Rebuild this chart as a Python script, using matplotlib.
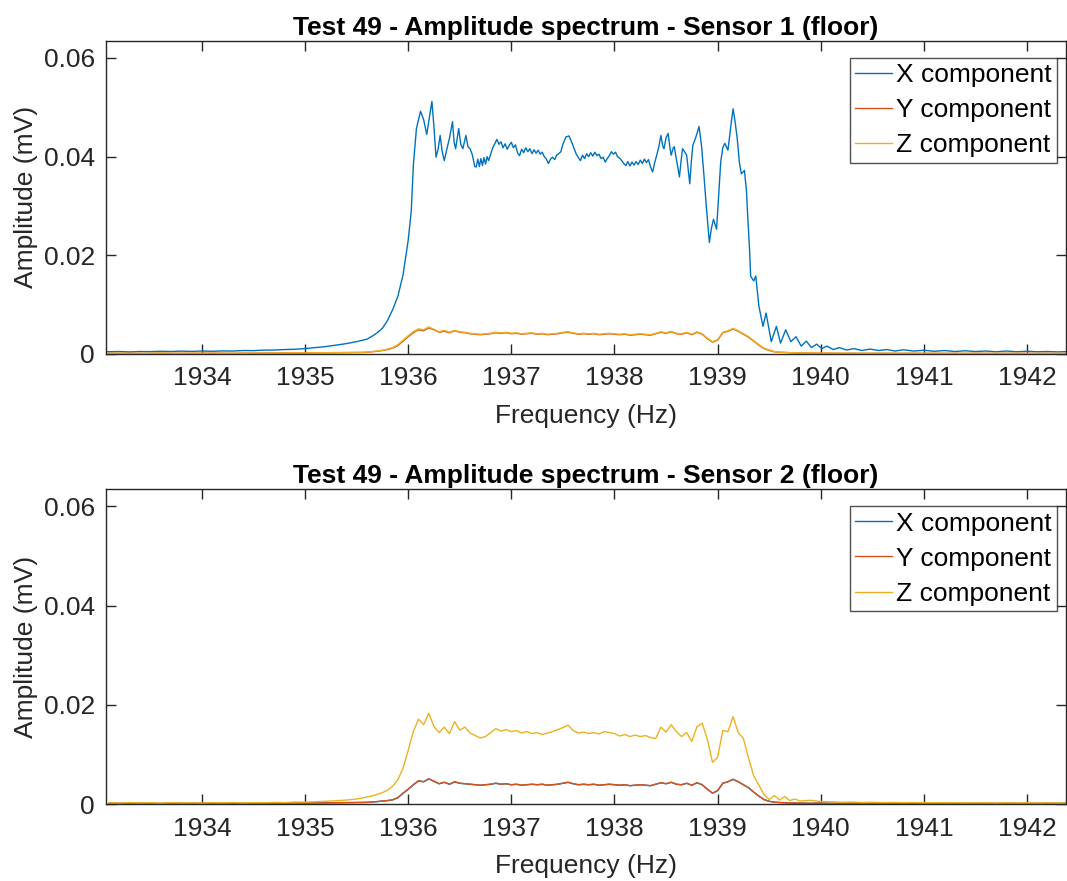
import matplotlib
matplotlib.use("Agg")
import matplotlib.pyplot as plt
import numpy as np

plt.rcParams['font.family'] = ['Liberation Sans', 'DejaVu Sans']

# ---------------- data (amplitudes in 1e-3 mV) ----------------
# X component, sensor 1
freq_x1 = [1933.08, 1933.2, 1933.3, 1933.4, 1933.5, 1933.6, 1933.7, 1933.8, 1933.9, 1934.0,
           1934.1, 1934.2, 1934.3, 1934.4, 1934.5, 1934.6, 1934.7, 1934.8, 1934.9, 1935.0,
           1935.1, 1935.2, 1935.3, 1935.4, 1935.5, 1935.6, 1935.65, 1935.7, 1935.75, 1935.8,
           1935.85, 1935.9, 1935.95, 1936.0, 1936.03, 1936.05, 1936.08, 1936.12, 1936.15, 1936.18,
           1936.21, 1936.23, 1936.25, 1936.27, 1936.29, 1936.31, 1936.33, 1936.35, 1936.38, 1936.40,
           1936.43, 1936.445, 1936.46, 1936.49, 1936.51, 1936.53, 1936.56, 1936.58, 1936.60, 1936.62,
           1936.63, 1936.645, 1936.66, 1936.675, 1936.69, 1936.705, 1936.72, 1936.735, 1936.75, 1936.765,
           1936.78, 1936.80, 1936.82, 1936.84, 1936.86, 1936.88, 1936.90, 1936.92, 1936.94, 1936.96,
           1936.98, 1937.00, 1937.02, 1937.04, 1937.06, 1937.08, 1937.10, 1937.12, 1937.14, 1937.16,
           1937.18, 1937.20, 1937.22, 1937.24, 1937.26, 1937.28, 1937.30, 1937.32, 1937.34, 1937.36,
           1937.38, 1937.40, 1937.42, 1937.44, 1937.46, 1937.48, 1937.50, 1937.53, 1937.56, 1937.58,
           1937.61, 1937.63, 1937.65, 1937.67, 1937.69, 1937.71, 1937.73, 1937.75, 1937.77, 1937.79,
           1937.81, 1937.83, 1937.85, 1937.87, 1937.89, 1937.91, 1937.93, 1937.95, 1937.97, 1937.99,
           1938.01, 1938.03, 1938.05, 1938.07, 1938.09, 1938.11, 1938.13, 1938.15, 1938.17, 1938.19,
           1938.21, 1938.23, 1938.25, 1938.27, 1938.29, 1938.31, 1938.33, 1938.35, 1938.37, 1938.39,
           1938.41, 1938.43, 1938.45, 1938.47, 1938.48, 1938.50, 1938.52, 1938.54, 1938.55, 1938.57,
           1938.58, 1938.60, 1938.63, 1938.645, 1938.66, 1938.68, 1938.70, 1938.73, 1938.745, 1938.76,
           1938.79, 1938.82, 1938.845, 1938.87, 1938.89, 1938.92, 1938.94, 1938.96, 1938.99, 1939.01,
           1939.03, 1939.05, 1939.07, 1939.10, 1939.13, 1939.15, 1939.17, 1939.19, 1939.21, 1939.23,
           1939.26, 1939.28, 1939.29, 1939.31, 1939.32, 1939.35, 1939.37, 1939.40, 1939.44, 1939.47,
           1939.52, 1939.57, 1939.61, 1939.66, 1939.71, 1939.76, 1939.81, 1939.86, 1939.91, 1939.96,
           1940.01, 1940.06, 1940.12, 1940.18, 1940.25, 1940.32, 1940.40, 1940.48, 1940.56, 1940.64,
           1940.72, 1940.8, 1940.9, 1941.0, 1941.1, 1941.2, 1941.3, 1941.4, 1941.5, 1941.6,
           1941.7, 1941.8, 1941.9, 1942.0, 1942.1, 1942.2, 1942.3, 1942.4]
amp_x1 = [0.45, 0.5, 0.42, 0.5, 0.48, 0.55, 0.5, 0.58, 0.52, 0.6,
          0.55, 0.62, 0.6, 0.7, 0.68, 0.78, 0.8, 0.9, 0.95, 1.1,
          1.3, 1.5, 1.8, 2.1, 2.5, 3.0, 3.6, 4.3, 5.2, 6.8,
          9.0, 11.7, 16.0, 23.0, 29.0, 38.2, 45.7, 49.2, 47.5, 44.5,
          48.5, 51.2, 46.0, 39.9, 41.5, 44.3, 41.0, 39.2, 42.0, 43.7,
          47.1, 43.0, 41.6, 45.7, 42.5, 41.6, 44.3, 42.0, 41.6, 40.5,
          39.6, 38.0, 37.9, 39.5, 38.0, 39.6, 38.2, 39.8, 38.5, 40.0,
          39.2, 40.5, 41.8, 42.6, 43.5, 42.5, 43.0, 41.8, 42.6, 41.5,
          42.3, 42.9, 41.8, 42.4, 40.8, 40.2, 41.5, 40.8, 41.8, 41.0,
          41.6, 40.6, 41.4, 40.7, 41.3, 40.5, 40.9, 40.0, 39.5, 38.6,
          39.5, 39.9, 39.4, 40.3, 40.6, 41.0, 42.5, 44.0, 44.2, 43.2,
          41.6, 40.5, 39.8, 39.2, 40.3, 39.6, 40.6, 40.0, 40.8, 40.1,
          40.9, 40.2, 40.5, 39.6, 39.9, 38.9, 39.6, 40.2, 41.0, 40.5,
          40.9, 40.0, 39.7, 39.2, 38.6, 38.2, 39.0, 38.1, 38.9, 38.3,
          39.0, 38.4, 39.3, 38.6, 39.5, 38.8, 39.4, 37.9, 36.9, 38.8,
          40.3, 42.0, 44.3, 42.0, 41.6, 43.8, 44.7, 41.5, 40.3, 41.8,
          42.0, 39.5, 35.9, 39.0, 41.6, 41.0, 40.3, 34.5, 39.0, 42.3,
          44.0, 46.1, 42.0, 35.5, 30.0, 22.6, 25.5, 27.3, 25.3, 32.0,
          38.9, 41.8, 42.7, 41.3, 46.5, 49.7, 47.0, 43.7, 39.0, 36.5,
          37.2, 33.0, 28.7, 21.0, 15.8, 14.8, 15.8, 9.7, 5.6, 8.3,
          2.5, 5.6, 2.2, 4.9, 2.5, 3.5, 1.6, 2.6, 1.3, 2.0,
          1.1, 1.6, 0.9, 1.3, 0.8, 1.1, 0.7, 1.0, 0.7, 0.9,
          0.6, 0.85, 0.6, 0.75, 0.55, 0.7, 0.5, 0.65, 0.5, 0.6,
          0.45, 0.6, 0.45, 0.55, 0.45, 0.5, 0.42, 0.5]

# Common frequency grid for the small components
freq_grid = [1933.1, 1933.2, 1933.3, 1933.4, 1933.5, 1933.6, 1933.7, 1933.8, 1933.9, 1934.0,
             1934.1, 1934.2, 1934.3, 1934.4, 1934.5, 1934.6, 1934.7, 1934.8, 1934.9, 1935.0,
             1935.1, 1935.2, 1935.3, 1935.4, 1935.5,
             1935.55, 1935.60, 1935.65, 1935.70, 1935.75, 1935.80, 1935.85, 1935.90, 1935.95, 1936.00,
             1936.05, 1936.10, 1936.15, 1936.20, 1936.25, 1936.30, 1936.35, 1936.40, 1936.45, 1936.50,
             1936.55, 1936.60, 1936.65, 1936.70, 1936.75, 1936.80, 1936.85, 1936.90, 1936.95, 1937.00,
             1937.05, 1937.10, 1937.15, 1937.20, 1937.25, 1937.30, 1937.35, 1937.40, 1937.45, 1937.50,
             1937.55, 1937.60, 1937.65, 1937.70, 1937.75, 1937.80, 1937.85, 1937.90, 1937.95, 1938.00,
             1938.05, 1938.10, 1938.15, 1938.20, 1938.25, 1938.30, 1938.35, 1938.40, 1938.45, 1938.50,
             1938.55, 1938.60, 1938.65, 1938.70, 1938.75, 1938.80, 1938.85, 1938.90, 1938.95, 1939.00,
             1939.05, 1939.10, 1939.15, 1939.20, 1939.25, 1939.30, 1939.35, 1939.40, 1939.45, 1939.50,
             1939.55, 1939.60, 1939.65, 1939.70, 1939.75,
             1939.8, 1939.9, 1940.0, 1940.1, 1940.2, 1940.3, 1940.4, 1940.5, 1940.6, 1940.7,
             1940.8, 1940.9, 1941.0, 1941.1, 1941.2, 1941.3, 1941.4, 1941.5, 1941.6, 1941.7,
             1941.8, 1941.9, 1942.0, 1942.1, 1942.2, 1942.3, 1942.4]

amp_y1 = [0.15, 0.12, 0.18, 0.10, 0.14, 0.16, 0.12, 0.15, 0.13, 0.17,
          0.14, 0.16, 0.12, 0.18, 0.15, 0.20, 0.17, 0.22, 0.19, 0.20,
          0.22, 0.24, 0.26, 0.28, 0.30,
          0.30, 0.35, 0.45, 0.55, 0.70, 0.90, 1.2, 1.7, 2.6, 3.5,
          4.3, 4.9, 4.7, 5.3, 4.9, 4.4, 4.6, 4.3, 4.7, 4.4,
          4.3, 4.1, 4.0, 3.9, 4.0, 4.1, 4.3, 4.2, 4.3, 4.1,
          4.2, 4.0, 4.1, 4.2, 4.0, 4.1, 3.9, 4.0, 4.1, 4.3,
          4.4, 4.2, 4.0, 4.1, 4.0, 4.1, 3.9, 4.0, 4.1, 4.0,
          3.9, 4.0, 3.8, 3.9, 4.0, 3.9, 3.8, 4.1, 4.4, 4.2,
          4.5, 4.1, 4.0, 4.3, 3.9, 4.4, 4.0, 3.1, 2.4, 2.8,
          4.3, 4.6, 5.1, 4.6, 4.0, 3.4, 2.6, 1.8, 1.1, 0.7,
          0.45, 0.35, 0.3, 0.25, 0.22,
          0.2, 0.18, 0.15, 0.17, 0.13, 0.16, 0.12, 0.15, 0.13, 0.14,
          0.12, 0.15, 0.11, 0.14, 0.12, 0.13, 0.11, 0.14, 0.12, 0.10,
          0.13, 0.11, 0.12, 0.10, 0.13, 0.11, 0.12]

amp_z1 = [0.12, 0.16, 0.10, 0.15, 0.12, 0.18, 0.14, 0.11, 0.16, 0.13,
          0.18, 0.12, 0.16, 0.14, 0.19, 0.16, 0.21, 0.18, 0.22, 0.21,
          0.24, 0.26, 0.28, 0.30, 0.32,
          0.34, 0.40, 0.50, 0.60, 0.75, 1.0, 1.3, 1.9, 2.8, 3.7,
          4.5, 5.1, 4.9, 5.5, 5.0, 4.5, 4.8, 4.4, 4.8, 4.5,
          4.4, 4.2, 4.1, 4.0, 4.1, 4.2, 4.4, 4.3, 4.4, 4.2,
          4.3, 4.1, 4.2, 4.3, 4.1, 4.2, 4.0, 4.1, 4.2, 4.4,
          4.5, 4.3, 4.1, 4.2, 4.1, 4.2, 4.0, 4.1, 4.2, 4.1,
          4.0, 4.1, 3.9, 4.0, 4.1, 4.0, 3.9, 4.2, 4.5, 4.3,
          4.6, 4.2, 4.1, 4.4, 4.0, 4.5, 4.1, 3.2, 2.5, 2.9,
          4.4, 4.7, 5.2, 4.7, 4.1, 3.5, 2.7, 1.9, 1.2, 0.8,
          0.5, 0.38, 0.32, 0.27, 0.24,
          0.22, 0.16, 0.18, 0.14, 0.17, 0.13, 0.15, 0.12, 0.16, 0.13,
          0.14, 0.11, 0.15, 0.12, 0.14, 0.10, 0.13, 0.12, 0.11, 0.14,
          0.12, 0.13, 0.10, 0.12, 0.11, 0.13, 0.11]

# Sensor 2
amp_x2 = [0.17, 0.13, 0.19, 0.14, 0.16, 0.12, 0.18, 0.13, 0.15, 0.12,
          0.17, 0.14, 0.19, 0.13, 0.16, 0.15, 0.20, 0.17, 0.22, 0.19,
          0.21, 0.22, 0.24, 0.26, 0.28,
          0.29, 0.33, 0.38, 0.48, 0.58, 0.68, 0.83, 1.27, 2.15, 2.95,
          3.85, 4.65, 4.47, 5.06, 4.57, 4.07, 4.37, 3.97, 4.46, 4.17,
          4.07, 3.97, 3.87, 3.78, 3.87, 3.97, 4.17, 3.97, 4.07, 3.87,
          3.97, 3.78, 3.87, 3.97, 3.87, 3.97, 3.78, 3.87, 3.97, 4.17,
          4.37, 4.07, 3.87, 3.97, 3.87, 3.97, 3.78, 3.87, 3.97, 3.87,
          3.78, 3.87, 3.68, 3.78, 3.87, 3.78, 3.68, 3.97, 4.27, 4.07,
          4.37, 3.97, 3.87, 4.17, 3.78, 4.27, 3.87, 2.98, 2.18, 2.68,
          4.17, 4.47, 4.96, 4.47, 3.87, 3.27, 2.38, 1.58, 0.88, 0.54,
          0.37, 0.29, 0.25, 0.21, 0.19,
          0.17, 0.14, 0.18, 0.12, 0.16, 0.13, 0.17, 0.11, 0.15, 0.13,
          0.16, 0.11, 0.15, 0.12, 0.17, 0.11, 0.14, 0.13, 0.16, 0.11,
          0.15, 0.12, 0.14, 0.11, 0.15, 0.12, 0.14]

amp_y2 = [0.18, 0.12, 0.20, 0.14, 0.17, 0.11, 0.19, 0.13, 0.16, 0.12,
          0.18, 0.14, 0.20, 0.13, 0.17, 0.15, 0.21, 0.18, 0.23, 0.20,
          0.22, 0.23, 0.25, 0.27, 0.29,
          0.30, 0.35, 0.40, 0.50, 0.60, 0.70, 0.85, 1.30, 2.20, 3.00,
          3.90, 4.70, 4.50, 5.10, 4.60, 4.10, 4.40, 4.00, 4.50, 4.20,
          4.10, 4.00, 3.90, 3.80, 3.90, 4.00, 4.20, 4.00, 4.10, 3.90,
          4.00, 3.80, 3.90, 4.00, 3.90, 4.00, 3.80, 3.90, 4.00, 4.20,
          4.40, 4.10, 3.90, 4.00, 3.90, 4.00, 3.80, 3.90, 4.00, 3.90,
          3.80, 3.90, 3.70, 3.80, 3.90, 3.80, 3.70, 4.00, 4.30, 4.10,
          4.40, 4.00, 3.90, 4.20, 3.80, 4.30, 3.90, 3.00, 2.20, 2.70,
          4.20, 4.50, 5.00, 4.50, 3.90, 3.30, 2.40, 1.60, 0.90, 0.55,
          0.38, 0.30, 0.26, 0.22, 0.20,
          0.18, 0.15, 0.19, 0.13, 0.17, 0.14, 0.18, 0.12, 0.16, 0.14,
          0.17, 0.12, 0.16, 0.13, 0.18, 0.12, 0.15, 0.14, 0.17, 0.12,
          0.16, 0.13, 0.15, 0.12, 0.16, 0.13, 0.15]

amp_z2 = [0.25, 0.18, 0.30, 0.20, 0.27, 0.15, 0.28, 0.20, 0.24, 0.17,
          0.29, 0.22, 0.31, 0.19, 0.27, 0.24, 0.33, 0.28, 0.40, 0.38,
          0.45, 0.55, 0.65, 0.80, 1.00,
          1.20, 1.40, 1.65, 1.95, 2.30, 2.80, 3.60, 4.90, 7.20, 10.8,
          14.6, 17.1, 16.0, 18.3, 15.6, 14.4, 15.5, 14.2, 16.6, 14.9,
          15.5, 14.3, 13.8, 13.3, 13.6, 14.4, 15.2, 14.7, 15.0, 14.6,
          14.8, 14.3, 14.6, 14.2, 14.4, 14.0, 14.3, 14.6, 15.0, 15.4,
          15.9, 14.8, 14.3, 14.5, 14.2, 14.4, 14.1, 14.6, 14.4, 14.2,
          13.7, 14.0, 13.6, 13.9, 13.6, 13.8, 13.4, 13.2, 15.5, 14.5,
          16.0, 14.6, 13.6, 14.4, 12.6, 15.6, 16.3, 13.1, 8.4, 9.4,
          14.8, 14.6, 17.6, 14.4, 13.2, 9.2, 5.7, 3.8, 1.9, 0.9,
          1.7, 0.8, 1.5, 0.7, 1.0,
          0.60, 0.75, 0.50, 0.45, 0.35, 0.40, 0.30, 0.35, 0.28, 0.32,
          0.26, 0.30, 0.24, 0.28, 0.22, 0.27, 0.20, 0.25, 0.22, 0.18,
          0.24, 0.20, 0.23, 0.18, 0.22, 0.19, 0.21]

titles = ["Test 49 - Amplitude spectrum - Sensor 1 (floor)",
          "Test 49 - Amplitude spectrum - Sensor 2 (floor)"]
labels = ["X component", "Y component", "Z component"]
xticks = [1934, 1935, 1936, 1937, 1938, 1939, 1940, 1941, 1942]
yticks = [0, 0.02, 0.04, 0.06]
ytick_labels = ["0", "0.02", "0.04", "0.06"]

# ---------------- plotting ----------------
colors = ["#0072BD", "#D95319", "#EDB120"]
axcol = "#262626"

fig = plt.figure(figsize=(10.67, 8.81), dpi=100)
ax1 = fig.add_axes([0.0993, 0.5982, 0.9, 0.3556])
ax2 = fig.add_axes([0.0993, 0.0874, 0.9, 0.3575])

series = [
    [(freq_x1, amp_x1), (freq_grid, amp_y1), (freq_grid, amp_z1)],
    [(freq_grid, amp_x2), (freq_grid, amp_y2), (freq_grid, amp_z2)],
]

for ax, ser, title in zip([ax1, ax2], series, titles):
    for (f, a), c, lab in zip(ser, colors, labels):
        ax.plot(f, np.array(a) * 1e-3, color=c, lw=1.0, label=lab)
    ax.set_xlim(1933.07, 1942.38)
    ax.set_ylim(0, 0.0635)
    ax.set_xticks(xticks)
    ax.set_xticklabels([str(t) for t in xticks])
    ax.set_yticks(yticks)
    ax.set_yticklabels(ytick_labels)
    ax.tick_params(direction="in", length=7, width=1, colors=axcol,
                   labelsize=19, top=True, right=True)
    ax.tick_params(axis="x", pad=9)
    ax.tick_params(axis="y", pad=8)
    for sp in ax.spines.values():
        sp.set_color(axcol)
        sp.set_linewidth(1)
    ax.set_xlabel("Frequency (Hz)", fontsize=19, color=axcol, labelpad=10)
    ax.set_ylabel("Amplitude (mV)", fontsize=19, color=axcol, labelpad=4)
    ax.set_title(title, fontsize=19, fontweight="bold", color="black", pad=4)
    leg = ax.legend(loc="upper right", bbox_to_anchor=(0.9906, 0.945),
                    fontsize=19, frameon=True, fancybox=False,
                    edgecolor=axcol, handlelength=1.4, handletextpad=0.15,
                    borderpad=0.2, labelspacing=0.42, borderaxespad=0.0)
    leg.get_frame().set_linewidth(1)
    for t in leg.get_texts():
        t.set_color("black")

fig.savefig("out.png", dpi=100)
